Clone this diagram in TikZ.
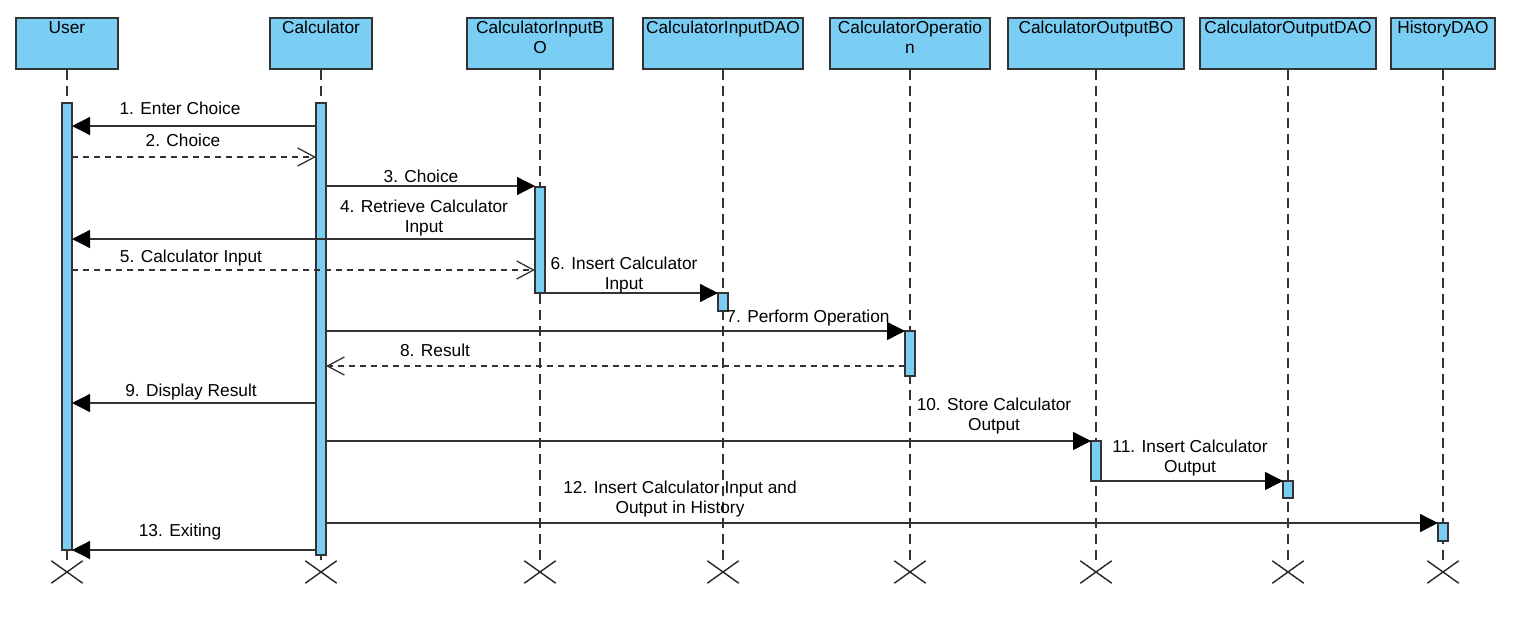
\documentclass[tikz,border=0pt]{standalone}
\usepackage{fontspec}
\setmainfont{Liberation Sans}
\usetikzlibrary{arrows.meta,shapes.misc}
\definecolor{lifeblue}{RGB}{122,206,244}
\definecolor{edgegray}{RGB}{51,51,51}
\tikzset{
  head/.style={draw=edgegray, fill=lifeblue, line width=1.5pt, minimum height=51, inner sep=0pt},
  headtxt/.style={anchor=north, align=center, inner sep=4pt, font=\fontsize{17.3}{20}\selectfont},
  lifeline/.style={draw=edgegray, line width=1.5pt, dash pattern=on 10pt off 6pt},
  bar/.style={draw=edgegray, fill=lifeblue, line width=1.5pt, minimum width=10, inner sep=0pt, outer sep=0pt, anchor=north},
  endx/.style={draw=black!85, cross out, line width=1.4pt, minimum width=30, minimum height=21, inner sep=0pt},
  call/.style={draw=edgegray, line width=1.3pt, -{Triangle[length=18pt,width=18pt,black]}},
  reply/.style={draw=edgegray, line width=1.3pt, dash pattern=on 6pt off 5pt, -{Straight Barb[length=17pt,width=18pt]}},
  msglbl/.style={anchor=base, align=center, inner sep=0pt, font=\fontsize{17.3}{20}\selectfont},
}
\begin{document}
\begin{tikzpicture}[x=1pt,y=-1pt]
\useasboundingbox (0,0) rectangle (1513,630);
% lifeline heads
\node[head, minimum width=102] (user) at (67,43.5) {};
\node[head, minimum width=102] (calc) at (321,43.5) {};
\node[head, minimum width=146] (inBO) at (540,43.5) {};
\node[head, minimum width=160] (inDAO) at (723,43.5) {};
\node[head, minimum width=160] (oper) at (910,43.5) {};
\node[head, minimum width=176] (outBO) at (1096,43.5) {};
\node[head, minimum width=176] (outDAO) at (1288,43.5) {};
\node[head, minimum width=104] (hist) at (1443,43.5) {};
\node[headtxt] (userTxt) at (user.north) {User};
\node[headtxt] (calcTxt) at (calc.north) {Calculator};
\node[headtxt] (inBOTxt) at (inBO.north) {CalculatorInputB\\O};
\node[headtxt] (inDAOTxt) at (inDAO.north) {CalculatorInputDAO};
\node[headtxt] (operTxt) at (oper.north) {CalculatorOperatio\\n};
\node[headtxt] (outBOTxt) at (outBO.north) {CalculatorOutputBO};
\node[headtxt] (outDAOTxt) at (outDAO.north) {CalculatorOutputDAO};
\node[headtxt] (histTxt) at (hist.north) {HistoryDAO};
% destruction marks and lifelines
\node[endx] (userEnd) at (67,572) {};
\node[endx] (calcEnd) at (321,572) {};
\node[endx] (inBOEnd) at (540,572) {};
\node[endx] (inDAOEnd) at (723,572) {};
\node[endx] (operEnd) at (910,572) {};
\node[endx] (outBOEnd) at (1096,572) {};
\node[endx] (outDAOEnd) at (1288,572) {};
\node[endx] (histEnd) at (1443,572) {};
\draw[lifeline] (user.south) -- (userEnd.north);
\draw[lifeline] (calc.south) -- (calcEnd.north);
\draw[lifeline] (inBO.south) -- (inBOEnd.north);
\draw[lifeline] (inDAO.south) -- (inDAOEnd.north);
\draw[lifeline] (oper.south) -- (operEnd.north);
\draw[lifeline] (outBO.south) -- (outBOEnd.north);
\draw[lifeline] (outDAO.south) -- (outDAOEnd.north);
\draw[lifeline] (hist.south) -- (histEnd.north);
% activations
\node[bar, minimum height=447] (userBar) at (67,103) {};
\node[bar, minimum height=452] (calcBar) at (321,103) {};
\node[bar, minimum height=106] (inBOBar) at (540,187) {};
\node[bar, minimum height=18] (inDAOBar) at (723,293) {};
\node[bar, minimum height=45] (operBar) at (910,331) {};
\node[bar, minimum height=40] (outBOBar) at (1096,441) {};
\node[bar, minimum height=17] (outDAOBar) at (1288,481) {};
\node[bar, minimum height=18] (histBar) at (1443,523) {};
% messages
\draw[call] (calcBar.west |- 0,126) -- (userBar.east |- 0,126);
\draw[reply] (userBar.east |- 0,157) -- (calcBar.west |- 0,157);
\draw[call] (calcBar.east |- 0,186) -- (inBOBar.west |- 0,186);
\draw[call] (inBOBar.west |- 0,239) -- (userBar.east |- 0,239);
\draw[reply] (userBar.east |- 0,270) -- (inBOBar.west |- 0,270);
\draw[call] (inBOBar.south east) -- (inDAOBar.north west);
\draw[call] (calcBar.east |- operBar.north) -- (operBar.north west);
\draw[reply] (operBar.west |- 0,366) -- (calcBar.east |- 0,366);
\draw[call] (calcBar.west |- 0,403) -- (userBar.east |- 0,403);
\draw[call] (calcBar.east |- outBOBar.north) -- (outBOBar.north west);
\draw[call] (outBOBar.south east) -- (outDAOBar.north west);
\draw[call] (calcBar.east |- histBar.north) -- (histBar.north west);
\draw[call] (calcBar.west |- userBar.south) -- (userBar.south east);
% message labels (base = last line)
\node[msglbl] (m1) at (180,114) {1. Enter Choice};
\node[msglbl] (m2) at (183,146) {2. Choice};
\node[msglbl] (m3) at (421,182) {3. Choice};
\node[msglbl] (m4) at (424,232) {4. Retrieve Calculator\\Input};
\node[msglbl] (m5) at (191,262) {5. Calculator Input};
\node[msglbl] (m6) at (624,289) {6. Insert Calculator\\Input};
\node[msglbl] (m7) at (808,322) {7. Perform Operation};
\node[msglbl] (m8) at (435,356) {8. Result};
\node[msglbl] (m9) at (191,396) {9. Display Result};
\node[msglbl] (m10) at (994,430) {10. Store Calculator\\Output};
\node[msglbl] (m11) at (1190,472) {11. Insert Calculator\\Output};
\node[msglbl] (m12) at (680,513) {12. Insert Calculator Input and\\Output in History};
\node[msglbl] (m13) at (180,536) {13. Exiting};
\end{tikzpicture}
\end{document}
